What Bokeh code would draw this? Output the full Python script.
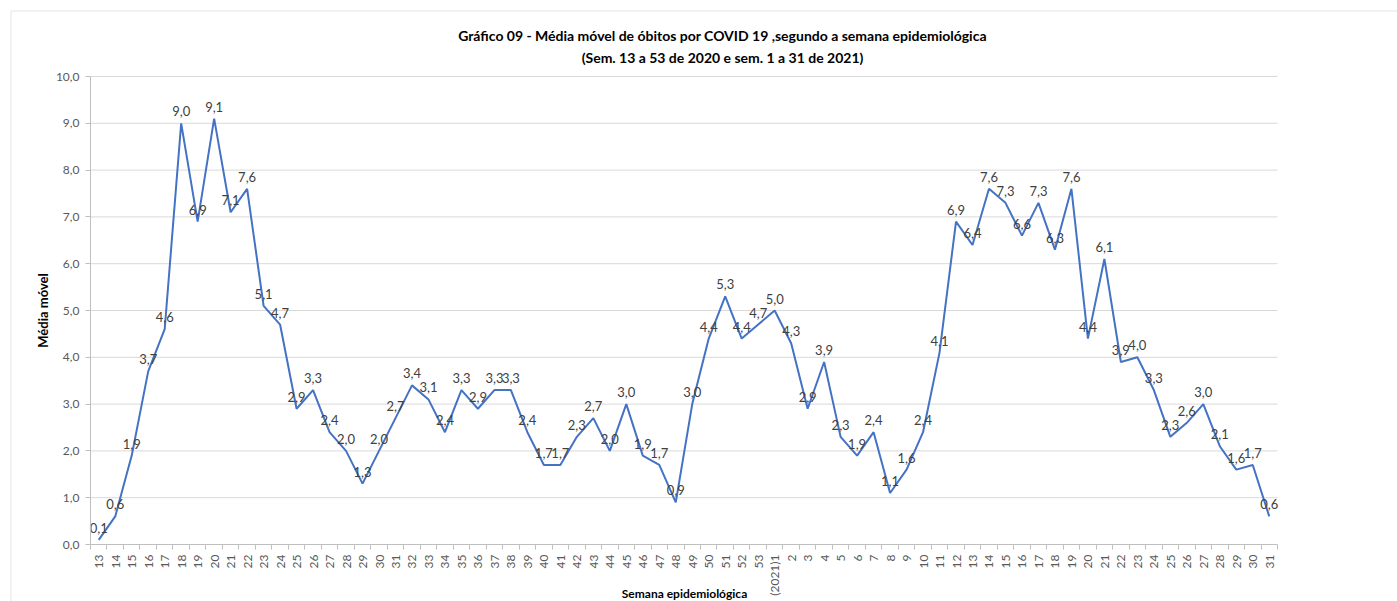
from math import pi

from bokeh.plotting import figure
from bokeh.models import FixedTicker, Label, BoxAnnotation, ColumnDataSource
from bokeh.core.properties import value
from bokeh.embed import file_html
from bokeh.resources import INLINE

# Epidemiological weeks: 13-53 of 2020 and 1-31 of 2021
weeks_2020 = list(range(13, 54))
weeks_2021 = list(range(1, 32))

# Moving average of COVID-19 deaths per week
media_2020 = [0.1, 0.6, 1.9, 3.7, 4.6, 9.0, 6.9, 9.1, 7.1, 7.6,
              5.1, 4.7, 2.9, 3.3, 2.4, 2.0, 1.3, 2.0, 2.7, 3.4,
              3.1, 2.4, 3.3, 2.9, 3.3, 3.3, 2.4, 1.7, 1.7, 2.3,
              2.7, 2.0, 3.0, 1.9, 1.7, 0.9, 3.0, 4.4, 5.3, 4.4,
              4.7]
media_2021 = [5.0, 4.3, 2.9, 3.9, 2.3, 1.9, 2.4, 1.1, 1.6, 2.4,
              4.1, 6.9, 6.4, 7.6, 7.3, 6.6, 7.3, 6.3, 7.6, 4.4,
              6.1, 3.9, 4.0, 3.3, 2.3, 2.6, 3.0, 2.1, 1.6, 1.7,
              0.6]

week_labels = ([str(w) for w in weeks_2020] + ["(2021)1"]
               + [str(w) for w in weeks_2021[1:]])
y_ticks = list(range(0, 11))
y_tick_labels = [f"{t},0" for t in y_ticks]

values = media_2020 + media_2021
xs = list(range(len(values)))
texts = [f"{v:.1f}".replace(".", ",") for v in values]
n = len(values)

src = ColumnDataSource(dict(x=xs, y=values, t=texts))

FONT = "Lato"
W, H = 1397, 601

# The plotting frame covers the whole canvas; the axes are pinned inside it.
PLOT_L, PLOT_R, PLOT_T, PLOT_B = 90, 1277, 76, 544
sx = (PLOT_R - PLOT_L) / n
sy = (PLOT_B - PLOT_T) / 10.0
x_start = -0.5 - PLOT_L / sx
y_start = -(H - PLOT_B) / sy


def px_x(px):
    return x_start + px / sx


def px_y(py):
    return y_start + (H - py) / sy


p = figure(width=W, height=H,
           x_range=(x_start, x_start + W / sx),
           y_range=(y_start, y_start + H / sy),
           output_backend="svg", toolbar_location=None,
           min_border=0, min_border_left=0, min_border_right=0,
           min_border_top=0, min_border_bottom=0)
p.outline_line_color = None
p.background_fill_color = "white"
p.border_fill_color = "white"
p.xgrid.visible = False
p.ygrid.visible = False

# horizontal gridlines at the y ticks
p.segment(x0=-0.5, x1=n - 0.5, y0=y_ticks[1:], y1=y_ticks[1:],
          line_color="#d9d9d9", line_width=1)

# x axis: one category per week, tick marks between categories
xax = p.xaxis[0]
xax.fixed_location = 0
xax.bounds = (-0.5, n - 0.5)
xax.ticker = FixedTicker(ticks=xs, minor_ticks=[i - 0.5 for i in range(n + 1)])
xax.major_label_overrides = {i: lab for i, lab in zip(xs, week_labels)}
xax.major_label_orientation = pi / 2
xax.major_tick_in = 0
xax.major_tick_out = 0
xax.minor_tick_in = 0
xax.minor_tick_out = 5
xax.minor_tick_line_color = "#bfbfbf"
xax.axis_line_color = "#bfbfbf"
xax.major_label_text_font = FONT
xax.major_label_text_font_size = "12px"
xax.major_label_text_color = "#595959"
xax.major_label_standoff = 5

yax = p.yaxis[0]
yax.fixed_location = -0.5
yax.bounds = (0, 10)
yax.ticker = FixedTicker(ticks=y_ticks, minor_ticks=[])
yax.major_label_overrides = {t: lab for t, lab in zip(y_ticks, y_tick_labels)}
yax.major_tick_in = 0
yax.major_tick_out = 5
yax.major_tick_line_color = "#bfbfbf"
yax.axis_line_color = "#bfbfbf"
yax.major_label_text_font = FONT
yax.major_label_text_font_size = "12px"
yax.major_label_text_color = "#595959"
yax.major_label_standoff = 6
yax.axis_label = "Média móvel"
yax.axis_label_text_font = FONT
yax.axis_label_text_font_size = "13px"
yax.axis_label_text_font_style = "bold"
yax.axis_label_text_color = "#000000"
yax.axis_label_standoff = 2

p.line("x", "y", source=src, line_color="#4472C4", line_width=2)
p.text("x", "y", text="t", source=src, text_align="center",
       text_baseline="bottom", y_offset=-7,
       text_font=value(FONT), text_font_size="13px", text_color="#404040")

title_x = px_x(722)
p.add_layout(Label(x=title_x, y=px_y(35),
                   text="Gráfico 09 - Média móvel de óbitos por COVID 19 ,segundo a semana epidemiológica",
                   text_align="center", text_baseline="middle",
                   text_font=FONT, text_font_size="14px", text_font_style="bold",
                   text_color="#000000"))
p.add_layout(Label(x=title_x, y=px_y(57),
                   text="(Sem. 13 a 53 de 2020 e sem. 1 a 31 de 2021)",
                   text_align="center", text_baseline="middle",
                   text_font=FONT, text_font_size="14px", text_font_style="bold",
                   text_color="#000000"))
p.add_layout(Label(x=px_x(684), y=px_y(593), text="Semana epidemiológica",
                   text_align="center", text_baseline="middle",
                   text_font=FONT, text_font_size="12px", text_font_style="bold",
                   text_color="#000000"))

# chart area border
p.add_layout(BoxAnnotation(left=px_x(10.5), right=px_x(W + 20),
                           top=px_y(10.5), bottom=px_y(H + 20),
                           fill_alpha=0, line_color="#a6a6a6", line_width=1,
                           level="overlay"))

open("out.html", "w").write(file_html(p, INLINE))
